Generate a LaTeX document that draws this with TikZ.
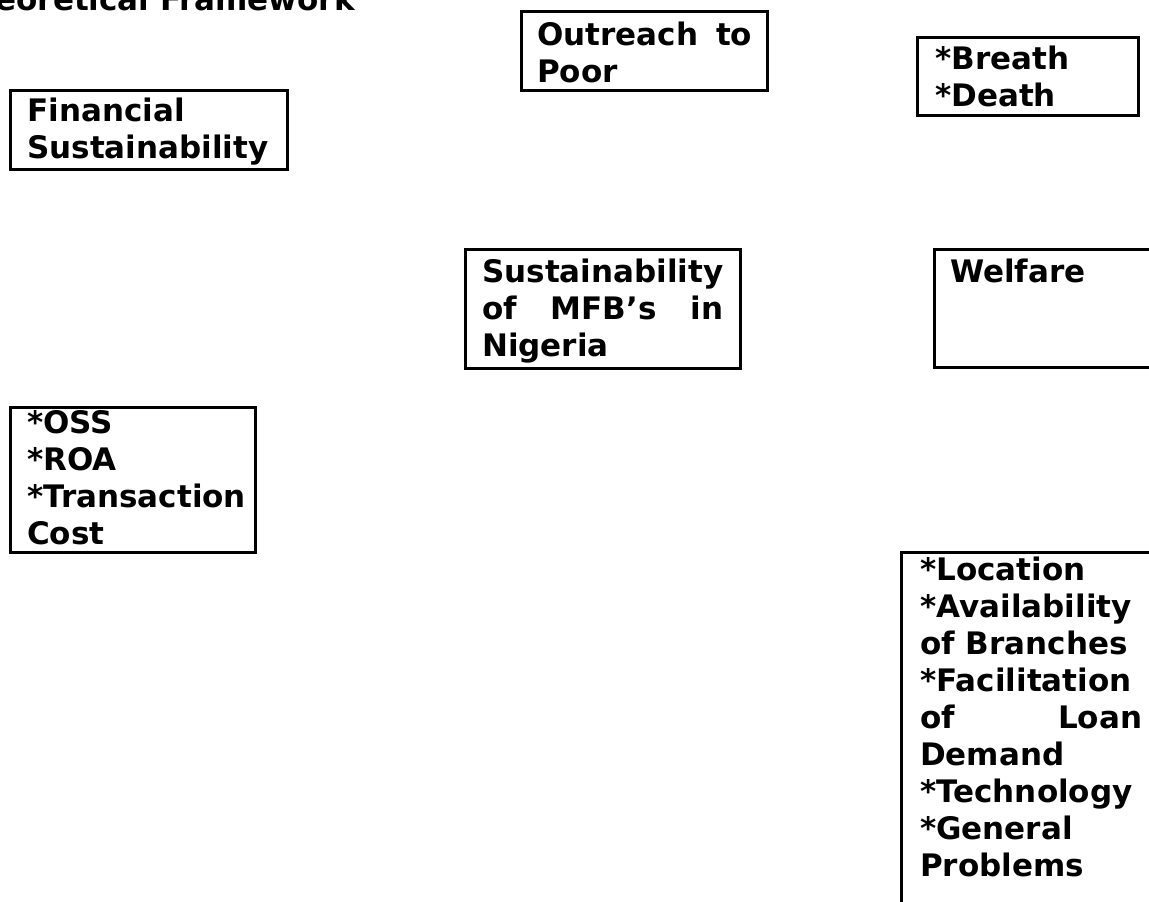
\documentclass[tikz,border=0pt]{standalone}
\usepackage{fontspec}
\setmainfont{DejaVu Sans}
\newcommand{\lines}[2]{\vtop{\hsize=#1\parindent=0pt\raggedright #2}}
\newcommand{\nl}{\\\relax}
\begin{document}
\begin{tikzpicture}[x=1pt,y=-1pt,
  frame/.style={draw=black,line width=3pt},
  txt/.style={inner sep=0pt,anchor=base west,font=\fontsize{31}{37}\selectfont\bfseries}]
\useasboundingbox (0,0) rectangle (1149,902);
\clip (0,0) rectangle (1149,902);
\fill[white] (0,0) rectangle (1149,902);
% title
\node[txt,anchor=base east] (title) at (355,10) {Theoretical Framework};
% boxes
\draw[frame] (10,90) rectangle (287,169);
\node[txt] (fin) at (27,121) {\lines{260pt}{Financial\nl Sustainability}};
\draw[frame] (521,11) rectangle (767,90);
\node[txt] (out) at (537,45) {\lines{215pt}{\makebox[215pt][s]{Outreach to}\nl Poor}};
\draw[frame] (917,37) rectangle (1138,115);
\node[txt] (bd) at (935,69) {\lines{200pt}{*Breath\nl *Death}};
\draw[frame] (465,249) rectangle (740,368);
\node[txt] (sus) at (482,282) {\lines{241pt}{Sustainability\nl \makebox[241pt][s]{of MFB's in}\nl Nigeria}};
\draw[frame] (934,249) rectangle (1170,367);
\node[txt] (wel) at (950,282) {Welfare};
\draw[frame] (10,407) rectangle (255,552);
\node[txt] (oss) at (27,433) {\lines{230pt}{*OSS\nl *ROA\nl *Transaction\nl Cost}};
\draw[frame] (901,552) rectangle (1170,930);
\node[txt] (loc) at (920,580) {\lines{222pt}{*Location\nl *Availability\nl of Branches\nl *Facilitation\nl \makebox[222pt][s]{of Loan}\nl Demand\nl *Technology\nl *General\nl Problems}};
\end{tikzpicture}
\end{document}
